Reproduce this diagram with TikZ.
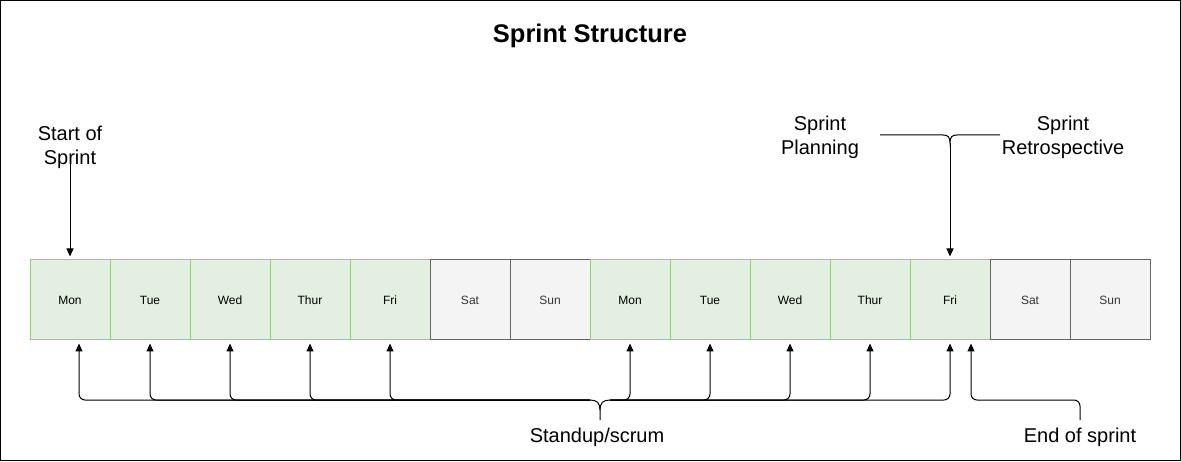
\documentclass[tikz,border=0pt]{standalone}
\usepackage{fontspec}
\setmainfont{Liberation Sans}
\usetikzlibrary{arrows.meta}
\definecolor{wkfill}{HTML}{E3EFE0}
\definecolor{wkline}{HTML}{97C987}
\definecolor{wefill}{HTML}{F4F4F4}
\definecolor{weline}{HTML}{666666}
\tikzset{
  day/.style={draw=wkline,fill=wkfill,minimum width=80pt,minimum height=80pt,inner sep=0pt,font=\fontsize{12}{14}\selectfont},
  weekend/.style={day,draw=weline,fill=wefill,text=black!80},
  lbl/.style={font=\fontsize{20}{24}\selectfont,align=center},
  arr/.style={-{Triangle[length=8pt,width=7pt]}},
}
\begin{document}
\begin{tikzpicture}[x=1pt,y=-1pt,line width=1pt]
\useasboundingbox (0,0) rectangle (1181,462);
\draw (0.5,0.5) rectangle (1180,460);
\node[font=\bfseries\fontsize{25.5}{30}\selectfont] (title) at (590,36) {Sprint Structure};
% Two weeks of days
\foreach \d/\s [count=\i] in {Mon/day,Tue/day,Wed/day,Thur/day,Fri/day,Sat/weekend,Sun/weekend,
    Mon/day,Tue/day,Wed/day,Thur/day,Fri/day,Sat/weekend,Sun/weekend}
  \node[\s] (d\i) at ({-10+80*\i},300) {\d};
% Start of sprint
\node[lbl] (start) at (70,147) {Start of\\Sprint};
\draw[arr] ([yshift=-16pt]start.center) -- ([yshift=3pt]d1.north);
% Planning and retrospective on the last Friday
\node[lbl] (plan) at (820,137) {Sprint\\Planning};
\node[lbl] (retro) at (1063,137) {Sprint\\Retrospective};
\coordinate (tb) at (950,143);
\draw (880,135) -- (943,135) .. controls (948,135) and (950,137) .. (tb)
      .. controls (950,137) and (952,135) .. (957,135) -- (1000,135);
\draw[arr] (tb) -- ([yshift=3pt]d12.north);
% Daily standups
\node[lbl] (standup) at (597,437) {Standup/scrum};
\coordinate (bl) at (590,400);
\coordinate (br) at (610,400);
\draw (bl) .. controls (597,400) and (600,403) .. (600,410) -- (600,420);
\draw (br) .. controls (603,400) and (600,403) .. (600,410);
\foreach \i/\dx in {1/9,2/0,3/0,4/0,5/0}
  \draw[arr,rounded corners=6] (bl) -| ([xshift=\dx pt,yshift=-3pt]d\i.south);
\foreach \i in {8,...,12}
  \draw[arr,rounded corners=6] (br) -| ([yshift=-3pt]d\i.south);
% End of sprint
\node[lbl] (eos) at (1080,437) {End of sprint};
\draw[arr,rounded corners=6] ([yshift=17pt]eos.center) |- (971,400) -- ([xshift=21pt,yshift=-3pt]d12.south);
\end{tikzpicture}
\end{document}
